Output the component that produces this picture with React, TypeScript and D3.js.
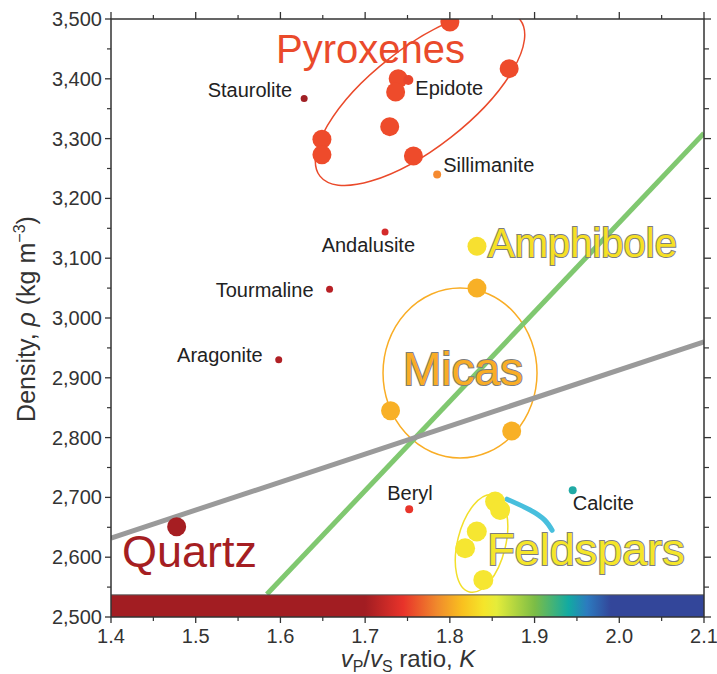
import React from "react";
import * as d3 from "d3";

// ---------------- DATA ----------------
const pyroxeneK = [1.649, 1.649, 1.8, 1.87, 1.739, 1.736, 1.729, 1.757];
const pyroxeneRho = [3299, 3273, 3495, 3417, 3400, 3378, 3320, 3271];
const amphiboleK = [1.832];
const amphiboleRho = [3120];
const micaK = [1.832, 1.73, 1.873];
const micaRho = [3050, 2845, 2811];
const feldsparK = [1.8534, 1.8593, 1.8318, 1.818, 1.8395];
const feldsparRho = [2693, 2679, 2643, 2615, 2562];
const quartzK = [1.4775];
const quartzRho = [2651];

const mineralNames = ["Staurolite", "Epidote", "Sillimanite", "Andalusite", "Tourmaline", "Aragonite", "Beryl", "Calcite"];
const mineralK = [1.628, 1.751, 1.785, 1.7235, 1.658, 1.598, 1.752, 1.945];
const mineralRho = [3367, 3398, 3240, 3144, 3048, 2930, 2680, 2712];

const calciteTrendK = [1.8675, 1.8947, 1.912, 1.9207];
const calciteTrendRho = [2697, 2679, 2662, 2645];

const grayLineK = [1.4, 2.1];
const grayLineRho = [2632, 2960];
const greenLineK = [1.584, 2.1];
const greenLineRho = [2538, 3309];

const colorbarK = [1.4, 1.7, 1.745, 1.785, 1.815, 1.84, 1.855, 1.9, 1.94, 1.962, 1.99, 2.1];
const colorbarColors = ["#a21d22", "#a21d22", "#e8332a", "#f08a2c", "#f9c11f", "#f5e52a", "#e5ec3a", "#7cbd46", "#12aaa2", "#2c7bbf", "#33469a", "#33469a"];
const colorbarRho = [2500, 2537];

const xTicks = [1.4, 1.5, 1.6, 1.7, 1.8, 1.9, 2.0, 2.1];
const xTickLabels = ["1.4", "1.5", "1.6", "1.7", "1.8", "1.9", "2.0", "2.1"];
const xMinorTicks = [1.45, 1.55, 1.65, 1.75, 1.85, 1.95, 2.05];
const yTicks = [2500, 2600, 2700, 2800, 2900, 3000, 3100, 3200, 3300, 3400, 3500];
const yTickLabels = ["2,500", "2,600", "2,700", "2,800", "2,900", "3,000", "3,100", "3,200", "3,300", "3,400", "3,500"];
const yMinorTicks = [2550, 2650, 2750, 2850, 2950, 3050, 3150, 3250, 3350, 3450];

const groupNames = ["Pyroxenes", "Amphibole", "Micas", "Quartz", "Feldspars"];

// ---------------- LAYOUT / STYLE ----------------
const W = 717;
const H = 674;
const M = { left: 111, right: 704, top: 19, bottom: 617 };
const FONT = "'Liberation Sans', Arial, Helvetica, sans-serif";

const groupStyle = [
  { fill: "#ea4a2b", outline: false, size: 40, anchorK: 1.5948, anchorRho: 3426 },
  { fill: "#f6e024", outline: true, size: 40, anchorK: 1.845, anchorRho: 3102 },
  { fill: "#f9ad25", outline: true, size: 46, anchorK: 1.7447, anchorRho: 2888 },
  { fill: "#a51e22", outline: false, size: 45, anchorK: 1.413, anchorRho: 2584 },
  { fill: "#f5e62a", outline: true, size: 45, anchorK: 1.844, anchorRho: 2587 },
];

const mineralStyle = [
  { color: "#a02025", r: 3.5, anchor: "end", dx: -12, dy: -2 },
  { color: "#e8452c", r: 5, anchor: "start", dx: 7, dy: 15 },
  { color: "#f58a30", r: 4, anchor: "start", dx: 6, dy: -2 },
  { color: "#d42a2a", r: 3.5, anchor: "end", dx: 30, dy: 20 },
  { color: "#b82025", r: 3.5, anchor: "end", dx: -16, dy: 8 },
  { color: "#b02025", r: 3.5, anchor: "end", dx: -16, dy: 2 },
  { color: "#e8352b", r: 4, anchor: "start", dx: -22, dy: -9 },
  { color: "#20aaa5", r: 4, anchor: "start", dx: 0, dy: 20 },
];

const ellipses = [
  { cK: 1.7648, cRho: 3368, rx: 127, ry: 50, angle: -38, color: "#ea4a2b" },
  { cK: 1.812, cRho: 2908, rx: 77, ry: 85, angle: 0, color: "#f9ad25" },
  { cK: 1.8374, cRho: 2623, rx: 24, ry: 50, angle: 14, color: "#f2df2a" },
];

export default function App() {
  const x = d3.scaleLinear().domain([1.4, 2.1]).range([M.left, M.right]);
  const y = d3.scaleLinear().domain([2500, 3500]).range([M.bottom, M.top]);

  const line = d3
    .line<[number, number]>()
    .x((d) => x(d[0]))
    .y((d) => y(d[1]));
  const curve = d3
    .line<[number, number]>()
    .x((d) => x(d[0]))
    .y((d) => y(d[1]))
    .curve(d3.curveNatural);

  const zip = (a: number[], b: number[]) => a.map((v, i) => [v, b[i]] as [number, number]);

  const groups = [
    { k: pyroxeneK, rho: pyroxeneRho, color: "#ee4b2b", r: 9.5 },
    { k: amphiboleK, rho: amphiboleRho, color: "#f7e030", r: 9.5 },
    { k: micaK, rho: micaRho, color: "#f8b026", r: 9.5 },
    { k: quartzK, rho: quartzRho, color: "#a61e22", r: 9.5 },
    { k: feldsparK, rho: feldsparRho, color: "#f6e631", r: 10 },
  ];

  const x0 = x(1.4);
  const x1 = x(2.1);

  return (
    <svg
      width={W}
      height={H}
      viewBox={`0 0 ${W} ${H}`}
      style={{ position: "absolute", left: 0, top: 0, display: "block", background: "#fff" }}
      fontFamily={FONT}
    >
      <defs>
        <clipPath id="plotClip">
          <rect x={M.left} y={M.top} width={M.right - M.left} height={M.bottom - M.top} />
        </clipPath>
        <linearGradient id="cbGrad" gradientUnits="userSpaceOnUse" x1={x0} x2={x1} y1={0} y2={0}>
          {colorbarK.map((k, i) => (
            <stop key={i} offset={(x(k) - x0) / (x1 - x0)} stopColor={colorbarColors[i]} />
          ))}
        </linearGradient>
      </defs>
      <rect x={0} y={0} width={W} height={H} fill="#fff" />

      <g clipPath="url(#plotClip)">
        {ellipses.map((e, i) => (
          <ellipse
            key={i}
            cx={0}
            cy={0}
            rx={e.rx}
            ry={e.ry}
            transform={`translate(${x(e.cK)},${y(e.cRho)}) rotate(${e.angle})`}
            fill="none"
            stroke={e.color}
            strokeWidth={1.5}
          />
        ))}
        <path d={line(zip(greenLineK, greenLineRho)) || ""} stroke="#80c870" strokeWidth={5} fill="none" />
        <path d={line(zip(grayLineK, grayLineRho)) || ""} stroke="#9a9a9a" strokeWidth={5} fill="none" />
        <path
          d={curve(zip(calciteTrendK, calciteTrendRho)) || ""}
          stroke="#48bfdd"
          strokeWidth={5}
          fill="none"
          strokeLinecap="round"
        />
        {groups.map((g, gi) =>
          g.k.map((k, i) => <circle key={`${gi}-${i}`} cx={x(k)} cy={y(g.rho[i])} r={g.r} fill={g.color} />)
        )}
        {mineralK.map((k, i) => (
          <circle key={`m${i}`} cx={x(k)} cy={y(mineralRho[i])} r={mineralStyle[i].r} fill={mineralStyle[i].color} />
        ))}
      </g>

      {/* colour bar */}
      <rect
        x={x0}
        y={y(colorbarRho[1])}
        width={x1 - x0}
        height={y(colorbarRho[0]) - y(colorbarRho[1])}
        fill="url(#cbGrad)"
      />
      <line x1={x0} x2={x1} y1={y(colorbarRho[1])} y2={y(colorbarRho[1])} stroke="#555" strokeWidth={1} />

      {/* frame */}
      <rect
        x={M.left}
        y={M.top}
        width={M.right - M.left}
        height={M.bottom - M.top}
        fill="none"
        stroke="#333"
        strokeWidth={1.5}
      />

      {/* x ticks: bottom and top */}
      {xTicks.map((t, i) => (
        <g key={`xt${i}`}>
          <line x1={x(t)} x2={x(t)} y1={M.bottom} y2={M.bottom + 6} stroke="#333" strokeWidth={1.3} />
          <line x1={x(t)} x2={x(t)} y1={M.top} y2={M.top - 7} stroke="#333" strokeWidth={1.3} />
          <text x={x(t)} y={643} textAnchor="middle" fontSize={20} fill="#333">
            {xTickLabels[i]}
          </text>
        </g>
      ))}
      {xMinorTicks.map((t, i) => (
        <g key={`xm${i}`}>
          <line x1={x(t)} x2={x(t)} y1={M.bottom} y2={M.bottom + 4} stroke="#333" strokeWidth={1.2} />
          <line x1={x(t)} x2={x(t)} y1={M.top} y2={M.top - 4} stroke="#333" strokeWidth={1.2} />
        </g>
      ))}

      {/* y ticks: left and right */}
      {yTicks.map((t, i) => (
        <g key={`yt${i}`}>
          <line x1={M.left} x2={M.left - 6} y1={y(t)} y2={y(t)} stroke="#333" strokeWidth={1.3} />
          <line x1={M.right} x2={M.right + 7} y1={y(t)} y2={y(t)} stroke="#333" strokeWidth={1.3} />
          <text x={102} y={y(t) + 7} textAnchor="end" fontSize={20} fill="#333">
            {yTickLabels[i]}
          </text>
        </g>
      ))}
      {yMinorTicks.map((t, i) => (
        <g key={`ym${i}`}>
          <line x1={M.left} x2={M.left - 4} y1={y(t)} y2={y(t)} stroke="#333" strokeWidth={1.2} />
          <line x1={M.right} x2={M.right + 5} y1={y(t)} y2={y(t)} stroke="#333" strokeWidth={1.2} />
        </g>
      ))}

      {/* mineral labels */}
      {mineralNames.map((n, i) => (
        <text
          key={`ml${i}`}
          x={x(mineralK[i]) + mineralStyle[i].dx}
          y={y(mineralRho[i]) + mineralStyle[i].dy}
          textAnchor={mineralStyle[i].anchor}
          fontSize={20}
          fill="#222"
        >
          {n}
        </text>
      ))}

      {/* group labels */}
      {groupNames.map((n, i) => (
        <text
          key={`gl${i}`}
          x={x(groupStyle[i].anchorK)}
          y={y(groupStyle[i].anchorRho)}
          fontSize={groupStyle[i].size}
          fill={groupStyle[i].fill}
          stroke={groupStyle[i].outline ? "#7d7d7d" : "none"}
          strokeWidth={groupStyle[i].outline ? 2 : 0}
          style={{ paintOrder: "stroke" }}
        >
          {n}
        </text>
      ))}

      {/* axis titles */}
      <text x={408} y={667} textAnchor="middle" fontSize={24} fill="#333">
        <tspan fontStyle="italic">v</tspan>
        <tspan fontSize={16} dy={5}>P</tspan>
        <tspan dy={-5}>/</tspan>
        <tspan fontStyle="italic">v</tspan>
        <tspan fontSize={16} dy={5}>S</tspan>
        <tspan dy={-5}> ratio, </tspan>
        <tspan fontStyle="italic">K</tspan>
      </text>
      <text
        transform={`translate(35,319) rotate(-90)`}
        textAnchor="middle"
        fontSize={25}
        fill="#333"
      >
        <tspan>Density, </tspan>
        <tspan fontStyle="italic">ρ</tspan>
        <tspan> (kg m</tspan>
        <tspan fontSize={16} dy={-10}>−3</tspan>
        <tspan dy={10}>)</tspan>
      </text>
    </svg>
  );
}
